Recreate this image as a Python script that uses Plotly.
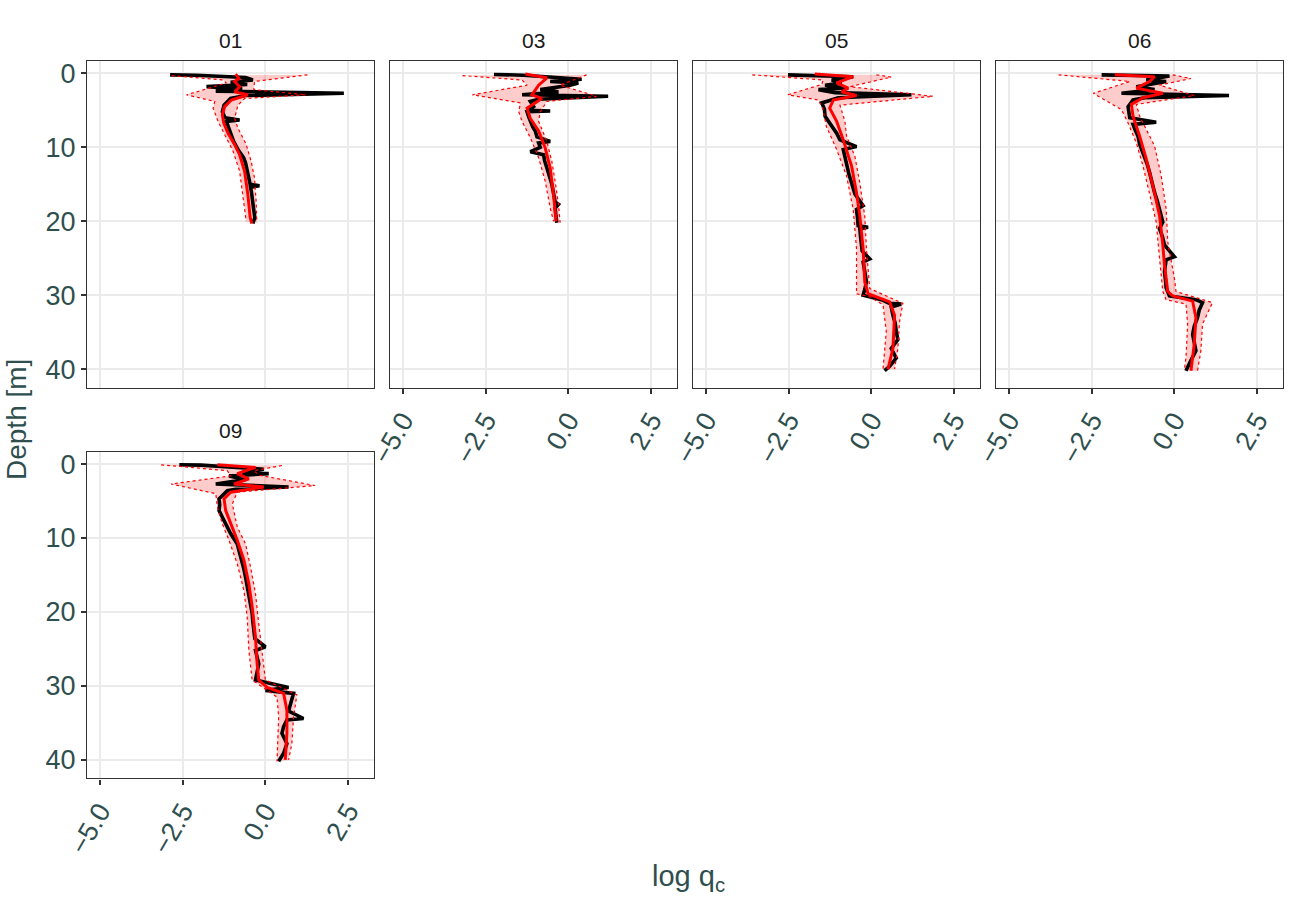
import plotly.graph_objects as go

W, H = 1297, 903

# CPT sites shown as facets
sites = ['01', '03', '05', '06', '09']

# ---- site 01 ----
obs_d_01 = [0.2, 0.25, 0.55, 0.9, 1.2, 1.5, 1.8, 2.1, 2.4, 2.7, 3.0, 3.4, 4.3, 5.2, 6.0, 6.3, 6.5, 7.2,
            7.8, 8.5, 9.2, 10.3, 11.0, 11.4, 12.1, 12.8, 13.4, 13.9, 14.5, 15.0, 15.2, 15.4, 16.1, 16.8,
            17.5, 18.2, 18.9, 19.5, 20.3]
obs_q_01 = [-2.88, -2.08, -0.6, -0.38, -1.05, -0.55, -1.78, -0.7, -1.5, 2.37, -0.6, -1.05, -1.25, -1.3,
            -1.22, -0.78, -1.18, -1.12, -1.06, -1.02, -0.96, -0.83, -0.72, -0.66, -0.6, -0.56, -0.53,
            -0.5, -0.48, -0.46, -0.18, -0.45, -0.42, -0.41, -0.38, -0.36, -0.35, -0.32, -0.38]
mean_d_01 = [0.1, 0.7, 1.1, 1.8, 2.5, 2.9, 3.6, 4.5, 5.6, 6.7, 8.1, 9.6, 11.0, 13.2, 16.4, 19.5, 20.3]
mean_q_01 = [-0.9, -0.8, -0.93, -0.78, -0.93, -0.53, -1.03, -1.23, -1.3, -1.26, -1.13, -0.93, -0.78,
             -0.63, -0.53, -0.46, -0.41]
hi_d_01 = [0.2, 1.1, 2.2, 2.9, 3.4, 4.3, 6.1, 7.4, 9.6, 11.9, 14.1, 17.3, 20.2]
hi_q_01 = [1.27, -0.33, -0.35, 1.22, -0.63, -0.83, -0.93, -0.83, -0.58, -0.43, -0.33, -0.28, -0.26]
lo_d_01 = [0.3, 0.9, 1.3, 2.9, 3.8, 4.7, 6.5, 7.4, 8.7, 10.5, 13.2, 16.4, 20.0]
lo_q_01 = [-2.83, -1.28, -1.18, -2.38, -1.53, -1.58, -1.43, -1.33, -1.18, -0.98, -0.78, -0.68, -0.58]

# ---- site 03 ----
obs_d_03 = [0.15, 0.25, 0.8, 1.1, 1.3, 1.6, 2.2, 2.5, 2.9, 3.1, 3.5, 3.8, 4.5, 5.0, 5.1, 5.2, 5.9, 6.5,
            7.2, 7.8, 8.6, 9.2, 9.4, 10.0, 10.6, 11.0, 11.8, 12.8, 13.8, 15.0, 16.2, 17.4, 17.7, 18.2,
            19.2, 20.2]
obs_q_03 = [-2.25, -1.35, 0.4, -0.55, 0.3, 0.05, -0.85, -0.3, -1.4, 1.2, -0.9, -1.15, -1.05, -1.2,
            -0.55, -1.25, -1.2, -1.15, -1.08, -1.0, -0.95, -0.55, -0.9, -0.85, -1.15, -0.75, -0.72,
            -0.65, -0.58, -0.5, -0.45, -0.4, -0.3, -0.4, -0.38, -0.35]
mean_d_03 = [0.1, 0.6, 1.6, 2.9, 3.4, 4.7, 6.1, 7.8, 10.1, 12.8, 16.4, 20.0]
mean_q_03 = [-1.3, -0.65, -0.9, -1.1, -0.8, -1.25, -1.15, -0.9, -0.7, -0.55, -0.45, -0.37]
hi_d_03 = [0.2, 1.6, 3.1, 3.8, 5.2, 6.5, 9.2, 11.9, 14.6, 17.7, 20.2]
hi_q_03 = [0.55, -0.25, 0.85, -0.65, -0.85, -0.9, -0.65, -0.5, -0.4, -0.3, -0.25]
lo_d_03 = [0.3, 0.9, 1.6, 2.9, 4.0, 5.2, 6.5, 8.7, 11.4, 14.6, 18.2, 20.0]
lo_q_03 = [-3.2, -1.4, -1.25, -2.9, -1.45, -1.5, -1.4, -1.15, -0.9, -0.7, -0.55, -0.45]

# ---- site 05 ----
obs_d_05 = [0.2, 0.25, 0.45, 0.9, 1.3, 1.6, 2.0, 2.2, 2.6, 2.9, 3.3, 4.0, 4.8, 5.8, 6.8, 8.1, 9.0, 9.9,
            10.3, 11.3, 12.5, 13.6, 14.8, 16.3, 17.9, 18.4, 19.5, 20.6, 20.8, 21.0, 22.0, 22.8, 24.0,
            25.1, 25.5, 26.8, 28.2, 29.2, 30.0, 30.6, 31.1, 31.2, 31.6, 32.7, 33.8, 34.9, 36.0, 37.2,
            38.5, 39.6, 40.2]
obs_q_05 = [-2.52, -2.0, -0.55, -1.2, -0.9, -1.4, -0.8, -1.6, -1.1, 1.21, -1.0, -1.5, -1.42, -1.4,
            -1.25, -1.05, -0.95, -0.45, -0.85, -0.8, -0.75, -0.68, -0.6, -0.5, -0.25, -0.45, -0.42,
            -0.4, -0.1, -0.35, -0.33, -0.3, -0.28, -0.05, -0.25, -0.2, -0.15, -0.2, -0.25, 0.3, 0.55,
            0.9, 0.6, 0.65, 0.72, 0.75, 0.8, 0.6, 0.75, 0.55, 0.4]
mean_d_05 = [0.1, 0.45, 1.3, 2.0, 2.5, 3.0, 3.6, 4.7, 6.5, 9.0, 12.5, 16.1, 19.3, 23.7, 28.2, 29.8,
             30.9, 32.7, 37.2, 40.0]
mean_q_05 = [-1.71, -0.55, -1.05, -0.7, -0.9, -0.45, -1.15, -1.26, -1.05, -0.85, -0.6, -0.45, -0.35,
             -0.25, -0.2, -0.1, 0.55, 0.7, 0.65, 0.5]
hi_d_05 = [0.2, 0.5, 1.8, 3.1, 4.3, 6.5, 8.5, 11.2, 14.8, 19.3, 23.7, 29.1, 31.1, 33.6, 37.2, 40.0]
hi_q_05 = [0.15, 0.6, -0.65, 1.86, -0.95, -0.8, -0.75, -0.5, -0.35, -0.2, -0.15, -0.05, 0.95, 0.85,
           0.8, 0.7]
lo_d_05 = [0.2, 0.9, 1.5, 2.9, 3.6, 4.9, 7.2, 10.3, 13.9, 18.4, 23.7, 29.8, 30.2, 31.3, 34.9, 40.0]
lo_q_05 = [-3.6, -1.46, -1.5, -2.52, -1.6, -1.46, -1.36, -1.05, -0.75, -0.55, -0.45, -0.45, -0.05,
           0.35, 0.45, 0.35]

# ---- site 06 ----
obs_d_06 = [0.2, 0.22, 0.35, 0.9, 1.1, 1.8, 2.2, 2.7, 3.0, 3.3, 3.6, 4.5, 5.3, 6.0, 6.6, 6.9, 7.7, 8.5,
            9.6, 10.4, 11.2, 12.3, 13.4, 14.8, 16.1, 17.2, 18.3, 19.2, 20.1, 21.0, 22.1, 23.2, 24.8,
            25.2, 26.0, 26.8, 27.9, 29.0, 30.1, 30.6, 31.0, 32.0, 33.0, 34.2, 35.3, 36.4, 37.5, 38.8,
            40.2]
obs_q_06 = [-2.2, -1.8, -0.15, -0.85, -0.25, -1.15, -0.6, -1.6, 1.65, -0.9, -1.25, -1.4, -1.38, -1.35,
            -0.55, -1.25, -1.18, -1.1, -1.05, -0.98, -0.9, -0.82, -0.75, -0.68, -0.6, -0.52, -0.45,
            -0.4, -0.35, -0.45, -0.36, -0.3, 0.0, -0.25, -0.28, -0.3, -0.27, -0.25, -0.15, 0.65, 0.85,
            0.75, 0.7, 0.6, 0.55, 0.6, 0.65, 0.5, 0.35]
mean_d_06 = [0.2, 0.45, 1.1, 2.0, 2.7, 3.3, 4.2, 5.8, 8.5, 11.6, 15.2, 19.2, 23.2, 25.9, 29.5, 30.1,
             30.8, 33.0, 36.6, 40.2]
mean_q_06 = [-1.8, -0.6, -0.75, -1.15, -0.35, -0.95, -1.3, -1.25, -1.05, -0.85, -0.65, -0.45, -0.35,
             -0.3, -0.2, -0.05, 0.55, 0.65, 0.6, 0.5]
hi_d_06 = [0.2, 0.7, 1.6, 3.0, 4.2, 5.8, 9.8, 13.8, 18.3, 22.8, 27.7, 29.5, 31.0, 33.9, 37.5, 40.2]
hi_q_06 = [-0.05, 0.5, -0.45, 0.6, -1.15, -1.05, -0.6, -0.4, -0.25, -0.2, 0.0, 0.05, 1.15, 0.85,
           0.8, 0.7]
lo_d_06 = [0.2, 1.1, 2.7, 4.9, 6.7, 9.4, 12.5, 16.1, 20.1, 25.0, 29.5, 30.6, 31.2, 33.9, 38.4, 40.2]
lo_q_06 = [-3.5, -1.35, -2.45, -1.6, -1.4, -1.15, -0.95, -0.75, -0.55, -0.45, -0.35, -0.25, 0.35,
           0.4, 0.35, 0.3]

# ---- site 09 ----
obs_d_09 = [0.1, 0.15, 0.7, 1.1, 1.3, 1.6, 2.1, 2.7, 3.1, 3.4, 3.6, 4.7, 5.5, 6.3, 7.2, 8.1, 9.4, 10.8,
            11.9, 13.0, 14.2, 15.3, 16.4, 17.5, 18.9, 20.2, 21.3, 22.5, 23.6, 24.7, 25.2, 26.1, 27.0,
            28.1, 29.2, 30.2, 30.6, 31.0, 31.7, 32.4, 33.4, 34.4, 34.6, 35.5, 36.4, 37.8, 39.1, 40.2]
obs_q_09 = [-2.6, -1.95, -0.05, -0.7, 0.1, -1.1, -0.6, -1.5, 0.7, -0.9, -1.15, -1.4, -1.38, -1.4,
            -1.3, -1.2, -1.05, -0.85, -0.78, -0.7, -0.65, -0.6, -0.55, -0.5, -0.45, -0.4, -0.38,
            -0.35, -0.32, 0.0, -0.3, -0.25, -0.2, -0.25, -0.3, 0.7, 0.0, 0.85, 0.8, 0.75, 0.7, 1.15,
            0.65, 0.55, 0.5, 0.65, 0.55, 0.4]
mean_d_09 = [0.1, 0.45, 1.3, 2.0, 2.7, 3.1, 3.8, 4.7, 6.3, 8.1, 10.3, 13.0, 16.2, 19.3, 23.4, 27.0,
             29.2, 30.2, 31.0, 33.3, 36.4, 40.0]
mean_q_09 = [-1.45, -0.3, -0.85, -0.5, -0.95, -0.05, -1.05, -1.25, -1.2, -1.05, -0.85, -0.65, -0.5,
             -0.4, -0.3, -0.25, -0.2, 0.05, 0.55, 0.65, 0.65, 0.6]
hi_d_09 = [0.2, 0.9, 1.5, 2.9, 3.8, 5.4, 8.5, 10.8, 13.9, 17.5, 21.6, 25.2, 29.2, 31.2, 34.2, 37.8,
           40.0]
hi_q_09 = [0.5, -0.35, -0.2, 1.5, -0.85, -1.0, -0.85, -0.6, -0.45, -0.3, -0.2, -0.1, 0.0, 0.95, 0.85,
           0.8, 0.7]
lo_d_09 = [0.1, 0.9, 1.6, 2.7, 4.0, 5.8, 8.1, 10.3, 13.5, 17.1, 20.7, 25.2, 29.2, 30.3, 31.5, 34.2,
           38.7, 40.2]
lo_q_09 = [-3.15, -1.15, -1.05, -2.85, -1.5, -1.45, -1.3, -1.1, -0.85, -0.65, -0.55, -0.5, -0.4,
           -0.05, 0.35, 0.4, 0.35, 0.35]

x_ticks = [-5.0, -2.5, 0.0, 2.5]
x_ticklabels = ['\u22125.0', '\u22122.5', '0.0', '2.5']
y_ticks = [0, 10, 20, 30, 40]

panels = {
    '01': (obs_d_01, obs_q_01, mean_d_01, mean_q_01, hi_d_01, hi_q_01, lo_d_01, lo_q_01),
    '03': (obs_d_03, obs_q_03, mean_d_03, mean_q_03, hi_d_03, hi_q_03, lo_d_03, lo_q_03),
    '05': (obs_d_05, obs_q_05, mean_d_05, mean_q_05, hi_d_05, hi_q_05, lo_d_05, lo_q_05),
    '06': (obs_d_06, obs_q_06, mean_d_06, mean_q_06, hi_d_06, hi_q_06, lo_d_06, lo_q_06),
    '09': (obs_d_09, obs_q_09, mean_d_09, mean_q_09, hi_d_09, hi_q_09, lo_d_09, lo_q_09),
}

# facet grid (pixels): 4 columns, 2 rows
col_left = [87, 390, 693, 996]
panel_w = 287.3
row_top = [61, 451.7]
panel_h = 326.7
grid_pos = [(0, 0), (0, 1), (0, 2), (0, 3), (1, 0)]

fig = go.Figure()
layout = dict(
    width=W, height=H,
    margin=dict(l=0, r=0, t=0, b=0, autoexpand=False),
    plot_bgcolor='white', paper_bgcolor='white',
    showlegend=False,
    font=dict(family='Liberation Sans, Arial, sans-serif', color='#2F4F4F'),
)
annotations = []

for i, site in enumerate(sites):
    n = i + 1
    xa = 'x' if n == 1 else 'x%d' % n
    ya = 'y' if n == 1 else 'y%d' % n
    od, oq, md, mq, hd, hq, ld, lq = panels[site]
    r, c = grid_pos[i]

    # prediction interval band
    fig.add_trace(go.Scatter(x=hq + lq[::-1], y=hd + ld[::-1], fill='toself',
                             fillcolor='rgba(255,0,0,0.2)', line=dict(width=0),
                             mode='lines', hoverinfo='skip', xaxis=xa, yaxis=ya))
    # measured profile
    fig.add_trace(go.Scatter(x=oq, y=od, mode='lines', line=dict(color='black', width=3.6),
                             xaxis=xa, yaxis=ya))
    # interval edges
    for bq, bd in ((lq, ld), (hq, hd)):
        fig.add_trace(go.Scatter(x=bq, y=bd, mode='lines',
                                 line=dict(color='red', width=1.2, dash='dot'),
                                 xaxis=xa, yaxis=ya))
    # predicted mean
    fig.add_trace(go.Scatter(x=mq, y=md, mode='lines', line=dict(color='red', width=3),
                             xaxis=xa, yaxis=ya))

    x0 = col_left[c] / W
    x1 = (col_left[c] + panel_w) / W
    y1 = 1 - row_top[r] / H
    y0 = 1 - (row_top[r] + panel_h) / H

    show_x = not (r == 0 and c == 0)
    show_y = c == 0
    axis_common = dict(showgrid=True, gridcolor='#EBEBEB', gridwidth=2, zeroline=False,
                       showline=True, mirror=True, linecolor='#333333', linewidth=1.3,
                       tickcolor='#333333', tickwidth=1.5, ticklen=5, automargin=False,
                       tickfont=dict(size=27, color='#2F4F4F'))
    layout['xaxis' + ('' if n == 1 else str(n))] = dict(
        axis_common, domain=[x0, x1], anchor=ya, range=[-5.39, 3.29],
        tickmode='array', tickvals=x_ticks, ticktext=x_ticklabels,
        showticklabels=show_x, ticks='outside' if show_x else '', tickangle=-60)
    layout['yaxis' + ('' if n == 1 else str(n))] = dict(
        axis_common, domain=[y0, y1], anchor=xa, range=[42.5, -1.67],
        tickmode='array', tickvals=y_ticks,
        showticklabels=show_y, ticks='outside' if show_y else '')

    annotations.append(dict(text=site, x=(x0 + x1) / 2, y=1 - (row_top[r] - 21) / H,
                            xref='paper', yref='paper', showarrow=False,
                            xanchor='center', yanchor='middle',
                            font=dict(size=21, color='#1A1A1A')))

annotations.append(dict(text='Depth [m]', x=17 / W, y=1 - 420 / H, xref='paper', yref='paper',
                        showarrow=False, textangle=-90, xanchor='center', yanchor='middle',
                        font=dict(size=28, color='#2F4F4F')))
annotations.append(dict(text='log q<sub>c</sub>', x=688 / W, y=1 - 878 / H, xref='paper',
                        yref='paper', showarrow=False, xanchor='center', yanchor='middle',
                        font=dict(size=29, color='#2F4F4F')))
layout['annotations'] = annotations

fig.update_layout(**layout)
# drop the default page margin so the figure sits at the window's corner
fig.write_html("out.html", config={'displayModeBar': False},
               post_script="document.body.style.margin = '0px';")
